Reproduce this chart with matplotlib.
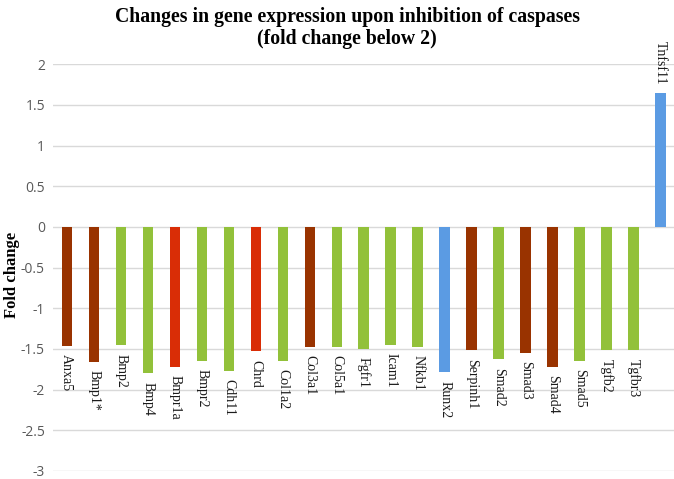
import matplotlib
matplotlib.use("Agg")
import matplotlib.pyplot as plt

genes = ["Anxa5", "Bmp1*", "Bmp2", "Bmp4", "Bmpr1a", "Bmpr2", "Cdh11", "Chrd",
         "Col1a2", "Col3a1", "Col5a1", "Fgfr1", "Icam1", "Nfkb1", "Runx2",
         "Serpinh1", "Smad2", "Smad3", "Smad4", "Smad5", "Tgfb2", "Tgfbr3", "Tnfsf11"]
fold_change = [-1.46, -1.66, -1.455, -1.80, -1.72, -1.65, -1.77, -1.53,
               -1.65, -1.475, -1.475, -1.50, -1.45, -1.475, -1.79,
               -1.52, -1.63, -1.55, -1.72, -1.65, -1.52, -1.52, 1.65]
groups = ["brown", "brown", "green", "green", "red", "green", "green", "red",
          "green", "brown", "green", "green", "green", "green", "blue",
          "brown", "green", "brown", "brown", "green", "green", "green", "blue"]
palette = {"brown": "#993300", "red": "#D92D06", "green": "#92C13A", "blue": "#5B9BE3"}
yticks = [2, 1.5, 1, 0.5, 0, -0.5, -1, -1.5, -2, -2.5, -3]

fig = plt.figure(figsize=(6.74, 4.79), dpi=100)
ax = fig.add_axes([0.079, 0.017, 0.921, 0.849])

x = list(range(len(genes)))
colors = [palette[g] for g in groups]
ax.bar(x, fold_change, width=0.38, color=colors, zorder=3)

ax.set_ylim(-3, 2)
ax.set_xlim(-0.5, len(genes) - 0.5)
ax.set_yticks(yticks)
ax.set_yticklabels([f"{t:g}" for t in yticks], fontsize=10, color="#595959",
                   family=["Open Sans", "DejaVu Sans"])
ax.tick_params(axis="y", length=0, pad=6)
ax.set_xticks([])
ax.grid(axis="y", color="#D9D9D9", linewidth=1, zorder=0)
for s in ax.spines.values():
    s.set_visible(False)

for xi, v, name in zip(x, fold_change, genes):
    if v < 0:
        ax.annotate(name, (xi, v), xytext=(0, -6), textcoords="offset points",
                    rotation=-90, ha="center", va="top", fontsize=10,
                    family="Liberation Serif", color="#1a1a1a", annotation_clip=False)
    else:
        ax.annotate(name, (xi, v), xytext=(0, 6), textcoords="offset points",
                    rotation=-90, ha="center", va="bottom", fontsize=10,
                    family="Liberation Serif", color="#1a1a1a", annotation_clip=False)

fig.text(0.018, 0.425, "Fold change", rotation=90, ha="center", va="center",
         fontsize=12, fontweight="bold", family="Liberation Serif")
fig.text(0.515, 0.985, "Changes in gene expression upon inhibition of caspases\n(fold change below 2)",
         ha="center", va="top", fontsize=14.2, fontweight="bold", family="Liberation Serif",
         linespacing=1.1)

fig.savefig("out.png", dpi=100)
